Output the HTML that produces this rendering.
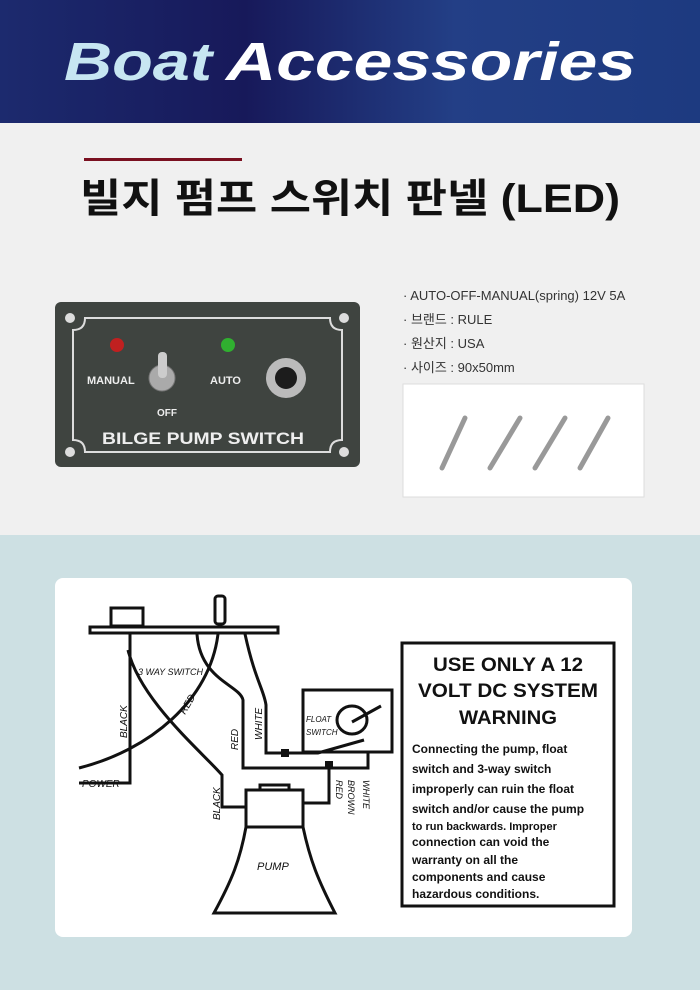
<!DOCTYPE html>
<html><head><meta charset="utf-8"><style>
body{margin:0;width:700px;height:990px;overflow:hidden;font-family:"Liberation Sans","Noto Sans CJK KR",sans-serif}
svg{display:block}
</style></head><body>
<svg width="700" height="990" xmlns="http://www.w3.org/2000/svg">
<defs>
<linearGradient id="hd" x1="0" y1="0" x2="1" y2="0">
<stop offset="0" stop-color="#1c2a6e"/><stop offset="0.35" stop-color="#17195a"/><stop offset="0.65" stop-color="#233f86"/><stop offset="1" stop-color="#1d3a80"/></linearGradient>
</defs>
<rect width="700" height="123" fill="url(#hd)"/>
<text x="64" y="80" font-size="54" font-weight="bold" font-style="italic" fill="#c7e6f2" font-family="Liberation Sans,sans-serif" textLength="148" lengthAdjust="spacingAndGlyphs">Boat</text>
<text x="226" y="80" font-size="54" font-weight="bold" font-style="italic" fill="#ffffff" font-family="Liberation Sans,sans-serif" textLength="410" lengthAdjust="spacingAndGlyphs">Accessories</text>
<rect y="123" width="700" height="412" fill="#f0f0f0"/>
<rect x="84" y="158" width="158" height="3" fill="#7a1020"/>
<text x="350" y="212" text-anchor="middle" font-size="40" font-weight="bold" fill="#111" font-family="Liberation Sans,'Noto Sans CJK KR',sans-serif" textLength="540" lengthAdjust="spacingAndGlyphs">빌지 펌프 스위치 판넬 (LED)</text>
<!-- panel -->
<rect x="55" y="302" width="305" height="165" rx="6" fill="#3f4440"/>
<circle cx="70" cy="318" r="5" fill="#ddd"/><circle cx="344" cy="318" r="5" fill="#ddd"/>
<circle cx="70" cy="452" r="5" fill="#ddd"/><circle cx="344" cy="452" r="5" fill="#ddd"/>
<path d="M85 318 H330 Q330 330 342 330 V440 Q330 440 330 452 H85 Q85 440 73 440 V330 Q85 330 85 318Z" fill="none" stroke="#ddd" stroke-width="2"/>
<circle cx="117" cy="345" r="7" fill="#c02020"/>
<circle cx="228" cy="345" r="7" fill="#30b030"/>
<circle cx="162" cy="378" r="13" fill="#aaa" stroke="#777"/>
<rect x="158" y="352" width="9" height="26" rx="4" fill="#ccc"/>
<circle cx="286" cy="378" r="20" fill="#bbb"/><circle cx="286" cy="378" r="11" fill="#1c1c1c"/>
<text x="87" y="384" font-size="11" font-weight="bold" fill="#eee">MANUAL</text>
<text x="210" y="384" font-size="11" font-weight="bold" fill="#eee">AUTO</text>
<text x="157" y="416" font-size="10" font-weight="bold" fill="#eee">OFF</text>
<text x="102" y="444" font-size="17" font-weight="bold" fill="#eee" textLength="202" lengthAdjust="spacingAndGlyphs">BILGE PUMP SWITCH</text>
<g font-size="13" fill="#333">
<text x="403" y="300">· AUTO-OFF-MANUAL(spring) 12V 5A</text>
<text x="403" y="324">· 브랜드 : RULE</text>
<text x="403" y="348">· 원산지 : USA</text>
<text x="403" y="372">· 사이즈 : 90x50mm</text>
</g>
<rect x="403" y="384" width="241" height="113" fill="#fff" stroke="#ddd"/>
<g stroke="#999" stroke-width="5" stroke-linecap="round">
<line x1="465" y1="418" x2="442" y2="468"/><line x1="520" y1="418" x2="490" y2="468"/><line x1="565" y1="418" x2="535" y2="468"/><line x1="608" y1="418" x2="580" y2="468"/>
</g>
<rect y="535" width="700" height="455" fill="#cde0e3"/>
<rect x="55" y="578" width="577" height="359" rx="8" fill="#fff"/>
<g fill="none" stroke="#111" stroke-width="3">
<rect x="90" y="627" width="188" height="6"/>
<rect x="111" y="608" width="32" height="18"/>
<rect x="215" y="596" width="10" height="28" rx="3"/>
<path d="M130 634 V783 H79"/>
<path d="M128 650 C140 700 200 750 222 775 V807 H246"/>
<path d="M79 768 C150 750 210 700 218 634"/>
<path d="M197 634 C200 680 240 685 243 700 V768 H368 V752 H392"/>
<path d="M245 634 C255 680 264 690 266 705 V753 H318 L364 740"/>
<rect x="303" y="690" width="89" height="62"/>
<ellipse cx="352" cy="720" rx="15" ry="14"/>
<path d="M352 722 L381 706"/>
<path d="M303 803 H329 V765"/>
<path d="M260 790 V785 H289 V790"/>
<path d="M246 790 H303 V827 H246 Z"/>
<path d="M246 827 C240 860 232 880 214 913 H335 C318 880 310 860 303 827"/>
</g>
<rect x="281" y="749" width="8" height="8" fill="#111"/>
<rect x="325" y="761" width="8" height="8" fill="#111"/>
<g fill="#111" font-style="italic" font-size="9">
<text x="138" y="675">3 WAY SWITCH</text>
<text x="82" y="787" font-size="10">POWER</text>
<text x="257" y="870" font-size="11">PUMP</text>
<text x="306" y="722" font-size="8">FLOAT</text>
<text x="306" y="735" font-size="8">SWITCH</text>
<text transform="translate(127,738) rotate(-90)" font-size="10">BLACK</text>
<text transform="translate(185,715) rotate(-60)" font-size="10">RED</text>
<text transform="translate(238,750) rotate(-90)" font-size="10">RED</text>
<text transform="translate(262,740) rotate(-90)" font-size="10">WHITE</text>
<text transform="translate(220,820) rotate(-90)" font-size="10">BLACK</text>
<text transform="translate(336,780) rotate(90)" font-size="9">RED</text>
<text transform="translate(348,780) rotate(90)" font-size="9">BROWN</text>
<text transform="translate(363,780) rotate(90)" font-size="9">WHITE</text>
</g>
<rect x="402" y="643" width="212" height="263" fill="none" stroke="#111" stroke-width="3"/>
<g fill="#111" font-weight="bold" text-anchor="middle">
<text x="508" y="671" font-size="19" textLength="150" lengthAdjust="spacingAndGlyphs">USE ONLY A 12</text>
<text x="508" y="697" font-size="19" textLength="180" lengthAdjust="spacingAndGlyphs">VOLT DC SYSTEM</text>
<text x="508" y="724" font-size="19" textLength="98" lengthAdjust="spacingAndGlyphs">WARNING</text>
</g>
<g fill="#111" font-size="12" font-weight="bold">
<text x="412" y="753">Connecting the pump, float</text>
<text x="412" y="773">switch and 3-way switch</text>
<text x="412" y="793">improperly can ruin the float</text>
<text x="412" y="813">switch and/or cause the pump</text>
<text x="412" y="830" font-size="11">to run backwards. Improper</text>
<text x="412" y="846">connection can void the</text>
<text x="412" y="864">warranty on all the</text>
<text x="412" y="881">components and cause</text>
<text x="412" y="898">hazardous conditions.</text>
</g>
</svg>
</body></html>
